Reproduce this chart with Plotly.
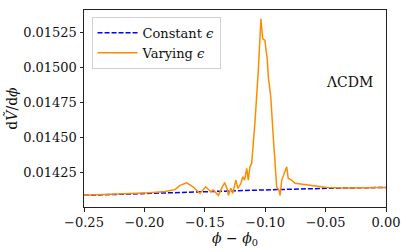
import plotly.graph_objects as go

# Data
phi_const = [-0.25, -0.20, -0.15, -0.10, -0.05, 0.0]
dV_const = [0.014089, 0.014103, 0.014116, 0.014128, 0.014139, 0.014146]

phi_var = [-0.25, -0.2202, -0.1954, -0.1829, -0.1747, -0.1705, -0.1650, -0.1598,
           -0.1561, -0.1540, -0.1493, -0.1450, -0.1430, -0.1388, -0.1355, -0.1335,
           -0.1313, -0.1305, -0.1285, -0.1268, -0.1243, -0.1226, -0.1201, -0.1185,
           -0.1171, -0.1153, -0.1140, -0.1126, -0.1112, -0.1084, -0.1057, -0.1043,
           -0.1035, -0.1021, -0.1002, -0.0993, -0.0983, -0.0974, -0.0954, -0.0933,
           -0.0919, -0.0905, -0.0886, -0.0877, -0.0863, -0.0844, -0.0822, -0.0809,
           -0.0781, -0.0753, -0.0712, -0.0629, -0.0491, -0.0353, -0.0215, 0.0]
dV_var = [0.014089, 0.014099, 0.014108, 0.014117, 0.014130, 0.014160, 0.014179, 0.014150,
          0.014115, 0.014103, 0.014150, 0.014115, 0.014127, 0.014089, 0.014150, 0.014180,
          0.014130, 0.014089, 0.014139, 0.014103, 0.014198, 0.014139, 0.014175, 0.014222,
          0.014198, 0.014281, 0.014198, 0.014293, 0.014317, 0.014620, 0.014981, 0.015266,
          0.015350, 0.015207, 0.015195, 0.015124, 0.015065, 0.014934, 0.014791, 0.014506,
          0.014340, 0.014150, 0.014127, 0.014089, 0.014198, 0.014246, 0.014293, 0.014210,
          0.014198, 0.014175, 0.014170, 0.014160, 0.014146, 0.014142, 0.014144, 0.014146]

y_ticks = [0.01425, 0.01450, 0.01475, 0.01500, 0.01525]
x_ticks = [-0.25, -0.20, -0.15, -0.10, -0.05, 0.00]

FONT = "DejaVu Serif"

fig = go.Figure()
fig.add_trace(go.Scatter(
    x=phi_const, y=dV_const, mode="lines", name="Constant <i>ϵ</i>",
    line=dict(color="#0000ff", width=1.5, dash="5px,2px"),
))
fig.add_trace(go.Scatter(
    x=phi_var, y=dV_var, mode="lines", name="Varying <i>ϵ</i>",
    line=dict(color="#ff8c00", width=1.5),
))

axis_common = dict(
    showline=True, linecolor="#222222", linewidth=1, mirror=True,
    ticks="outside", ticklen=3.5, tickcolor="#222222", tickwidth=1,
    showgrid=False, zeroline=False, automargin=False,
    tickfont=dict(family=FONT, size=13, color="#111111"),
)

fig.update_layout(
    width=407, height=252,
    margin=dict(l=84, r=21, t=10, b=45),
    paper_bgcolor="white", plot_bgcolor="white",
    font=dict(family=FONT, size=13, color="#111111"),
    showlegend=True,
    legend=dict(
        x=0.025, y=0.965, xanchor="left", yanchor="top",
        bgcolor="rgba(255,255,255,0.9)", bordercolor="#d0d0d0", borderwidth=1,
        font=dict(family=FONT, size=13),
        itemwidth=40, tracegroupgap=0,
    ),
    xaxis=dict(
        range=[-0.25, 0.0], tickvals=x_ticks, tickformat=".2f",
        title=dict(text="<i>ϕ</i> − <i>ϕ</i><sub>0</sub>", standoff=0,
                   font=dict(family=FONT, size=14)),
        **axis_common,
    ),
    yaxis=dict(
        range=[0.014006, 0.015412], tickvals=y_ticks, tickformat=".5f",
        title=dict(text="d<i>Ṽ</i>/d<i>ϕ</i>", standoff=2,
                   font=dict(family=FONT, size=14)),
        **axis_common,
    ),
    annotations=[dict(
        x=-0.03, y=0.0149, xref="x", yref="y",
        text="ΛCDM", showarrow=False,
        font=dict(family=FONT, size=14, color="#111111"),
    )],
)

fig.write_html("out.html", config={"displayModeBar": False},
               post_script="document.body.style.margin='0';")
